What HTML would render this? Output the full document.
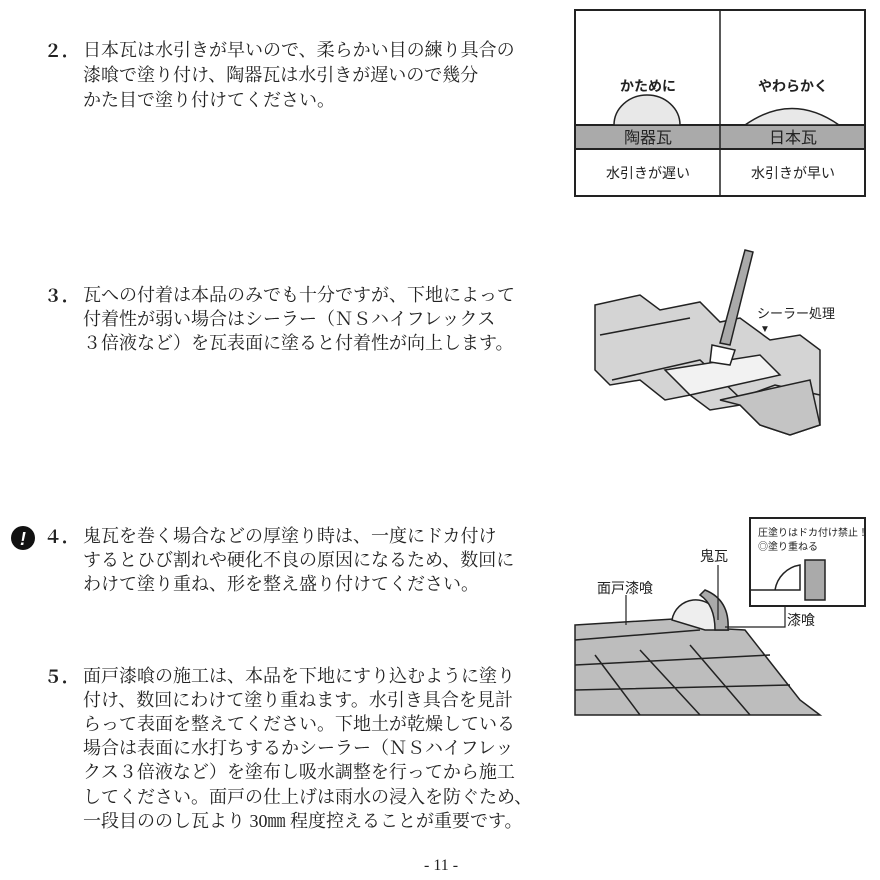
<!DOCTYPE html>
<html><head><meta charset="utf-8"><style>
body{margin:0;width:880px;height:880px;background:#fff;position:relative;overflow:hidden;font-family:"Liberation Serif","Noto Serif CJK SC",serif;color:#222}
.l{position:absolute;font-size:18px;line-height:20px;white-space:nowrap}
.n{position:absolute;font-size:18px;line-height:20px;font-family:"Noto Serif CJK SC",serif;font-weight:bold}
</style></head><body>
<div class="n" style="left:44px;top:40px">２．</div>
<div class="l" style="left:83px;top:40px">日本瓦は水引きが早いので、柔らかい目の練り具合の</div>
<div class="l" style="left:83px;top:65px">漆喰で塗り付け、陶器瓦は水引きが遅いので幾分</div>
<div class="l" style="left:83px;top:90px">かた目で塗り付けてください。</div>

<div class="n" style="left:44px;top:285px">３．</div>
<div class="l" style="left:83px;top:285px">瓦への付着は本品のみでも十分ですが、下地によって</div>
<div class="l" style="left:83px;top:309px">付着性が弱い場合はシーラー（ＮＳハイフレックス</div>
<div class="l" style="left:83px;top:333px">３倍液など）を瓦表面に塗ると付着性が向上します。</div>

<svg style="position:absolute;left:10px;top:525px" width="26" height="26"><circle cx="13" cy="13" r="12" fill="#111"/><text x="13" y="20" font-size="18" font-weight="bold" font-style="italic" fill="#fff" text-anchor="middle" font-family="Liberation Sans">!</text></svg>
<div class="n" style="left:44px;top:526px">４．</div>
<div class="l" style="left:83px;top:526px">鬼瓦を巻く場合などの厚塗り時は、一度にドカ付け</div>
<div class="l" style="left:83px;top:550px">するとひび割れや硬化不良の原因になるため、数回に</div>
<div class="l" style="left:83px;top:574px">わけて塗り重ね、形を整え盛り付けてください。</div>

<div class="n" style="left:44px;top:666px">５．</div>
<div class="l" style="left:83px;top:666px">面戸漆喰の施工は、本品を下地にすり込むように塗り</div>
<div class="l" style="left:83px;top:690px">付け、数回にわけて塗り重ねます。水引き具合を見計</div>
<div class="l" style="left:83px;top:714px">らって表面を整えてください。下地土が乾燥している</div>
<div class="l" style="left:83px;top:738px">場合は表面に水打ちするかシーラー（ＮＳハイフレッ</div>
<div class="l" style="left:83px;top:762px">クス３倍液など）を塗布し吸水調整を行ってから施工</div>
<div class="l" style="left:83px;top:787px">してください。面戸の仕上げは雨水の浸入を防ぐため、</div>
<div class="l" style="left:83px;top:811px">一段目ののし瓦より 30㎜ 程度控えることが重要です。</div>
<div class="l" style="left:424px;top:856px;font-size:16px">- 11 -</div>

<svg style="position:absolute;left:0;top:0" width="880" height="880">
<rect x="575" y="10" width="290" height="186" fill="#fff" stroke="#222" stroke-width="2"/>
<rect x="575" y="125" width="290" height="24" fill="#aaa" stroke="#222" stroke-width="2"/>
<line x1="720" y1="10" x2="720" y2="196" stroke="#222" stroke-width="1.5"/>
<path d="M614 125 A33 30 0 0 1 680 125 Z" fill="#e8e8e8" stroke="#222" stroke-width="1.5"/>
<path d="M745 125 Q792 92 839 125 Z" fill="#e8e8e8" stroke="#222" stroke-width="1.5"/>
<g font-family="Liberation Sans,Noto Sans CJK JP,sans-serif" fill="#222" text-anchor="middle">
<text x="648" y="91" font-size="14" font-weight="bold">かため<tspan>に</tspan></text>
<text x="793" y="91" font-size="14" font-weight="bold">やわらかく</text>
<text x="648" y="143" font-size="16">陶器瓦</text>
<text x="793" y="143" font-size="16">日本瓦</text>
<text x="648" y="178" font-size="14">水引きが遅い</text>
<text x="793" y="178" font-size="14">水引きが早い</text>
</g>

<g stroke="#222" stroke-width="1.5" fill="#d4d4d4">
<path d="M595 305 L640 295 L660 310 L700 302 L720 322 L740 318 L770 340 L800 335 L820 350 L820 425 L790 435 L760 425 L740 405 L710 410 L690 395 L665 400 L640 380 L610 385 L595 370 Z"/>
<path d="M600 335 L690 318 M612 380 L700 360 L740 398 L775 385 L820 395" fill="none"/>
<path d="M665 370 L760 355 L780 375 L690 395 Z" fill="#f2f2f2"/>
<path d="M720 400 L810 380 L820 425 L790 435 L760 425 L740 405 Z" fill="#c4c4c4"/>
<path d="M745 250 L753 252 L730 345 L720 343 Z" fill="#aaa"/>
<path d="M712 345 L735 350 L730 365 L710 362 Z" fill="#fff"/>
</g>
<text x="757" y="318" font-size="13" fill="#222" font-family="Liberation Sans,Noto Sans CJK JP,sans-serif">シーラー処理</text>
<text x="760" y="332" font-size="10" fill="#222">▼</text>

<g stroke="#222" stroke-width="1.5">
<path d="M575 625 L690 618 L710 628 L745 630 L800 700 L820 715 L575 715 Z" fill="#bdbdbd"/>
<path d="M575 640 L700 630" fill="none"/>
<path d="M595 655 L640 715 M640 650 L700 715 M690 645 L750 715 M575 665 L770 655 M575 690 L790 685" fill="none"/>
<path d="M672 620 A24 24 0 0 1 718 615 L728 630 L705 630 Z" fill="#eee"/>
<path d="M705 590 Q730 600 728 630 L715 630 Q715 605 700 595 Z" fill="#aaa"/>
<rect x="750" y="518" width="115" height="88" fill="#fff" stroke-width="2"/>
<path d="M750 590 L775 590 A30 30 0 0 1 800 565 L800 590 Z" fill="#fff"/>
<rect x="805" y="560" width="20" height="40" fill="#aaa"/>
<path d="M626 595 L626 625 M718 565 L718 620 M725 627 L785 627 L785 606" fill="none" stroke-width="1.2"/>
</g>
<g font-family="Liberation Sans,Noto Sans CJK JP,sans-serif" fill="#222">
<text x="597" y="593" font-size="14">面戸漆喰</text>
<text x="700" y="561" font-size="14">鬼瓦</text>
<text x="787" y="625" font-size="14">漆喰</text>
<text x="758" y="536" font-size="10">圧塗りはドカ付け禁止！</text>
<text x="758" y="550" font-size="10">◎塗り重ねる</text>
</g>
</svg>
</body></html>
